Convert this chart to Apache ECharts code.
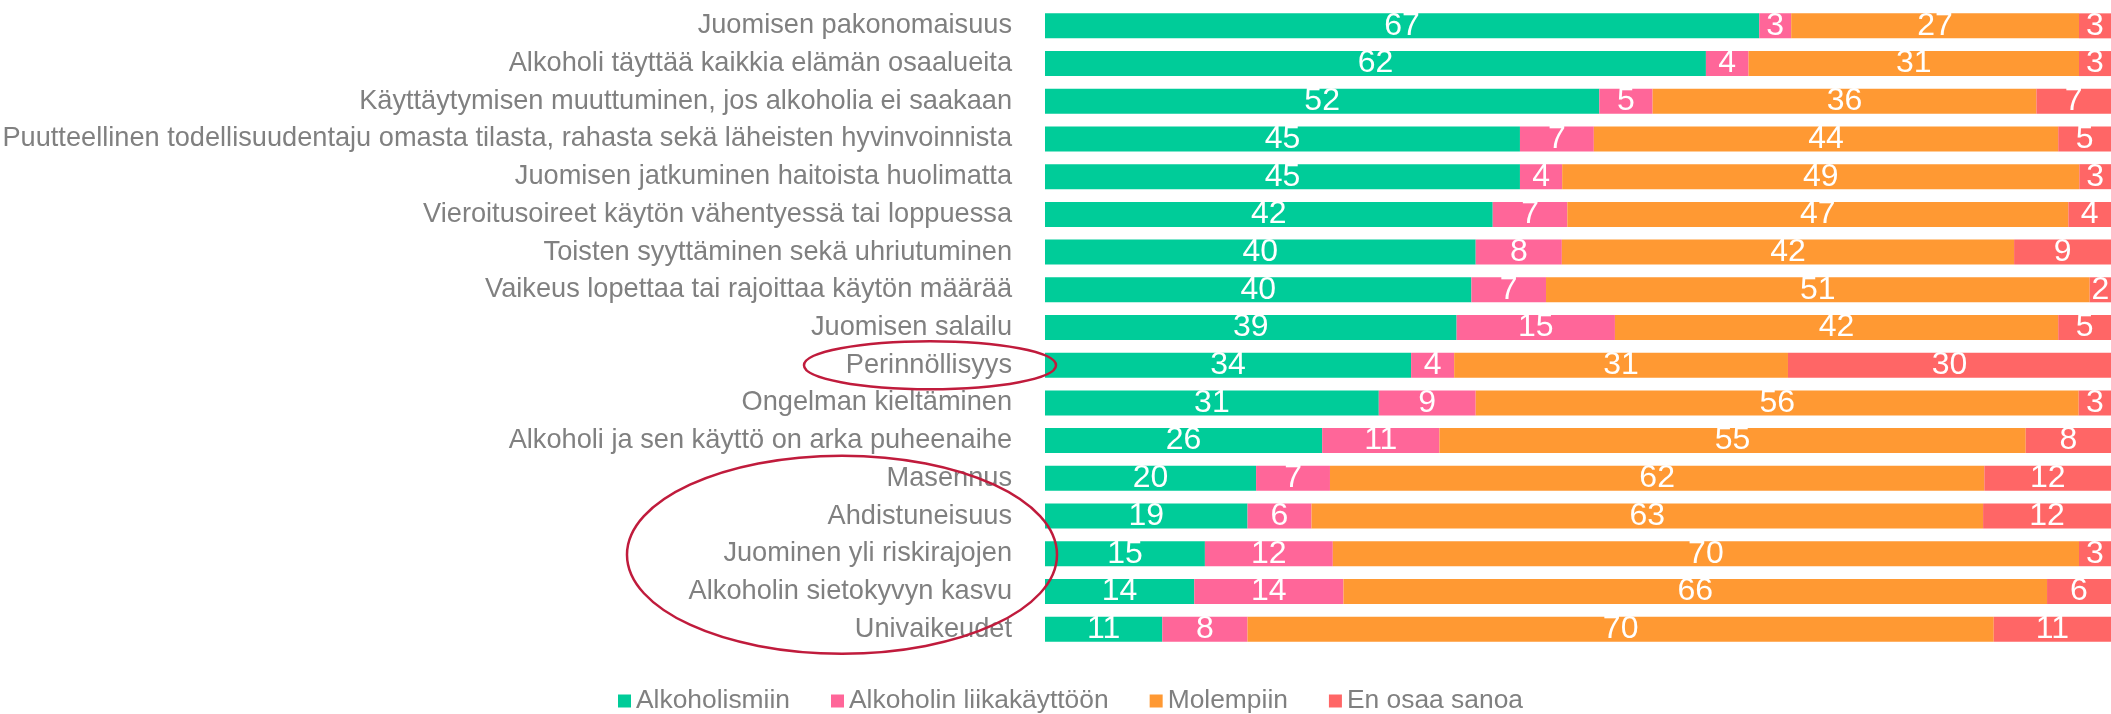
<!DOCTYPE html>
<html>
<head>
<meta charset="utf-8">
<script src="https://cdn.jsdelivr.net/npm/echarts@6/dist/echarts.min.js"></script>
<style>
html,body{margin:0;padding:0;background:#fff;}
#chart{width:2111px;height:714px;}
</style>
</head>
<body>
<div id="chart"></div>
<script>
const categories = [
  'Juomisen pakonomaisuus',
  'Alkoholi täyttää kaikkia elämän osaalueita',
  'Käyttäytymisen muuttuminen, jos alkoholia ei saakaan',
  'Puutteellinen todellisuudentaju omasta tilasta, rahasta sekä läheisten hyvinvoinnista',
  'Juomisen jatkuminen haitoista huolimatta',
  'Vieroitusoireet käytön vähentyessä tai loppuessa',
  'Toisten syyttäminen sekä uhriutuminen',
  'Vaikeus lopettaa tai rajoittaa käytön määrää',
  'Juomisen salailu',
  'Perinnöllisyys',
  'Ongelman kieltäminen',
  'Alkoholi ja sen käyttö on arka puheenaihe',
  'Masennus',
  'Ahdistuneisuus',
  'Juominen yli riskirajojen',
  'Alkoholin sietokyvyn kasvu',
  'Univaikeudet'
];
const seriesNames = ['Alkoholismiin', 'Alkoholin liikakäyttöön', 'Molempiin', 'En osaa sanoa'];
const alkoholismiin = [67, 62, 52, 45, 45, 42, 40, 40, 39, 34, 31, 26, 20, 19, 15, 14, 11];
const liikakaytto   = [3, 4, 5, 7, 4, 7, 8, 7, 15, 4, 9, 11, 7, 6, 12, 14, 8];
const molempiin     = [27, 31, 36, 44, 49, 47, 42, 51, 42, 31, 56, 55, 62, 63, 70, 66, 70];
const enOsaaSanoa   = [3, 3, 7, 5, 3, 4, 9, 2, 5, 30, 3, 8, 12, 12, 3, 6, 11];

const colors = ['#00CC99', '#FF6699', '#FF9933', '#FF6666'];
const raw = [alkoholismiin, liikakaytto, molempiin, enOsaaSanoa];
const sums = categories.map((c, i) => raw.reduce((s, arr) => s + arr[i], 0));

const FONT = '"Liberation Sans", Arial, sans-serif';

const series = raw.map((arr, k) => ({
  name: seriesNames[k],
  type: 'bar',
  stack: 'total',
  barWidth: 25,
  itemStyle: { color: colors[k] },
  label: {
    show: true,
    position: 'inside',
    color: '#ffffff',
    fontSize: 32,
    fontFamily: FONT,
    formatter: p => String(arr[p.dataIndex])
  },
  emphasis: { disabled: true },
  data: arr.map((v, i) => v / sums[i] * 100)
}));

const chart = echarts.init(document.getElementById('chart'), null, { renderer: 'canvas' });
chart.setOption({
  animation: false,
  backgroundColor: '#ffffff',
  grid: { left: 1045, right: 0, top: 7, bottom: 66, containLabel: false, outerBoundsMode: 'none' },
  xAxis: { type: 'value', min: 0, max: 100, show: false },
  yAxis: {
    type: 'category',
    inverse: true,
    data: categories,
    axisLine: { show: false },
    axisTick: { show: false },
    splitLine: { show: false },
    axisLabel: { color: '#808080', fontSize: 27.2, fontFamily: FONT, margin: 33 }
  },
  legend: {
    left: 613,
    top: 683,
    icon: 'rect',
    itemWidth: 13,
    itemHeight: 13,
    itemGap: 41,
    textStyle: { color: '#808080', fontSize: 26.4, fontFamily: FONT },
    data: seriesNames
  },
  series: series
});

function placeEllipses() {
  const gridLeft = 1045;
  const yPer = chart.convertToPixel({ yAxisIndex: 0 }, 'Perinnöllisyys');
  const yTop = chart.convertToPixel({ yAxisIndex: 0 }, 'Masennus');
  const yBot = chart.convertToPixel({ yAxisIndex: 0 }, 'Univaikeudet');
  chart.setOption({
    graphic: [
      {
        type: 'ellipse',
        z: 100,
        shape: { cx: gridLeft - 115, cy: yPer, rx: 126, ry: 24 },
        style: { fill: 'none', stroke: '#C01B3C', lineWidth: 2.5 }
      },
      {
        type: 'ellipse',
        z: 100,
        shape: { cx: gridLeft - 203, cy: (yTop + yBot) / 2 + 1, rx: 215, ry: 99 },
        style: { fill: 'none', stroke: '#C01B3C', lineWidth: 2.5 }
      }
    ]
  });
}
placeEllipses();
</script>
</body>
</html>
